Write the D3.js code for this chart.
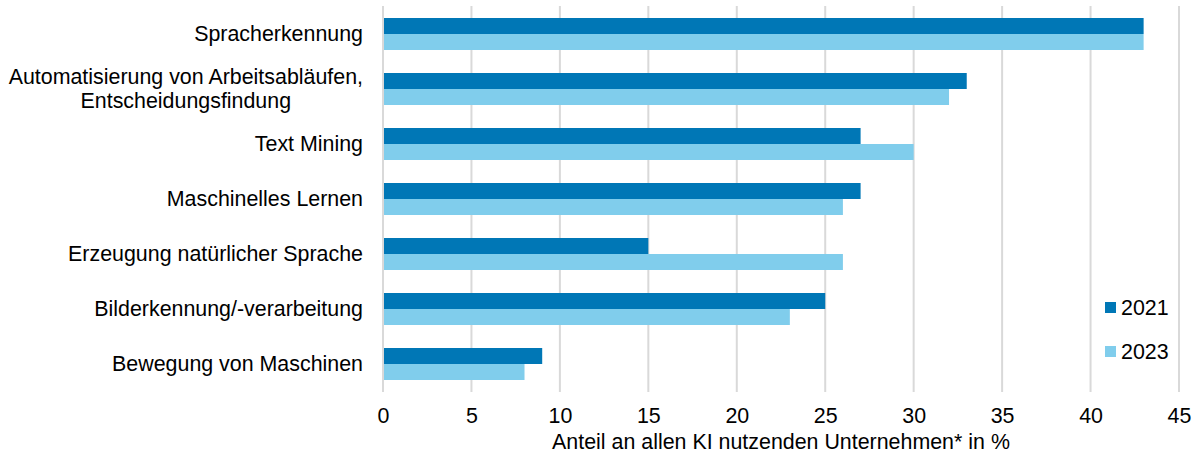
<!DOCTYPE html>
<html>
<head>
<meta charset="utf-8">
<script src="https://cdn.jsdelivr.net/npm/d3@7"></script>
<style>
  body { margin: 0; background: white; }
  text { font-family: "Liberation Sans", Arial, sans-serif; fill: #000; }
</style>
</head>
<body>
<div class="chart"></div>
<script>
    var categories = [
      ["Spracherkennung"],
      ["Automatisierung von Arbeitsabläufen,", "Entscheidungsfindung"],
      ["Text Mining"],
      ["Maschinelles Lernen"],
      ["Erzeugung natürlicher Sprache"],
      ["Bilderkennung/-verarbeitung"],
      ["Bewegung von Maschinen"]
    ];
    var years = ["2021", "2023"];
    var values2021 = [43, 33, 27, 27, 15, 25, 9];
    var values2023 = [43, 32, 30, 26, 26, 23, 8];
    var ticks = [0, 5, 10, 15, 20, 25, 30, 35, 40, 45];
    var colors = ["#0077b6", "#80cdec"];
    var fs = "21.4px";

    var svg = d3.select(".chart")
                .append("svg")
                .attr("width", 1193)
                .attr("height", 453);

    var x = d3.scaleLinear().domain([0, 45]).range([383, 1179]);
    var y = d3.scaleBand().domain(d3.range(categories.length)).range([6.5, 391.5]);
    var sub = d3.scaleBand().domain(years).range([11.5, 43.5]);

    // gridlines
    svg.append("g").selectAll("line")
       .data(ticks)
       .join("line")
       .attr("x1", d => x(d))
       .attr("x2", d => x(d))
       .attr("y1", 6)
       .attr("y2", 392)
       .attr("stroke", "#d9d9d9")
       .attr("stroke-width", 2);

    // bars
    var series = [values2021, values2023];
    series.forEach(function(vals, s) {
      svg.append("g").selectAll("rect")
         .data(vals)
         .join("rect")
         .attr("x", x(0) + 1)
         .attr("y", (d, i) => y(i) + sub(years[s]))
         .attr("width", d => x(d) - x(0) - 1)
         .attr("height", sub.bandwidth())
         .attr("fill", colors[s]);
    });

    // x axis tick labels
    var xAxis = d3.axisBottom(x).tickValues(ticks).tickSize(0).tickPadding(0);
    var ax = svg.append("g")
                .attr("transform", "translate(0,423)")
                .call(xAxis);
    ax.select(".domain").remove();
    ax.selectAll("text")
      .attr("dy", 0)
      .style("font-size", fs)
      .style("font-family", "Liberation Sans, Arial, sans-serif")
      .attr("fill", "#000");

    svg.append("text")
       .attr("text-anchor", "middle")
       .attr("x", x(22.5))
       .attr("y", 449)
       .style("font-size", fs)
       .text("Anteil an allen KI nutzenden Unternehmen* in %");

    // category labels
    categories.forEach(function(lines, i) {
      var cy = y(i) + y.bandwidth() / 2;
      var g = svg.append("g");
      if (lines.length === 1) {
        g.append("text")
         .attr("text-anchor", "end")
         .attr("x", 363)
         .attr("y", cy + 7)
         .style("font-size", fs)
         .text(lines[0]);
      } else {
        var first = g.append("text")
         .attr("text-anchor", "end")
         .attr("x", 363)
         .attr("y", cy - 5)
         .style("font-size", fs)
         .text(lines[0]);
        var w = first.node().getComputedTextLength();
        g.append("text")
         .attr("text-anchor", "middle")
         .attr("x", 363 - w / 2)
         .attr("y", cy + 19)
         .style("font-size", fs)
         .text(lines[1]);
      }
    });

    // legend
    years.forEach(function(yr, i) {
      svg.append("rect")
         .attr("x", 1105)
         .attr("y", 302 + i * 44)
         .attr("width", 11)
         .attr("height", 11)
         .attr("fill", colors[i]);
      svg.append("text")
         .attr("x", 1121)
         .attr("y", 315 + i * 44)
         .style("font-size", fs)
         .text(yr);
    });
</script>
</body>
</html>
